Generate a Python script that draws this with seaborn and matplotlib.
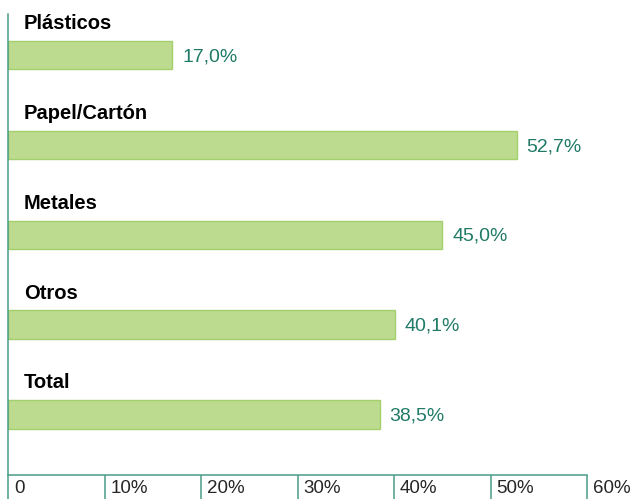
import pandas as pd
import seaborn as sns
import matplotlib.pyplot as plt
from matplotlib.transforms import ScaledTranslation

categorias = ['Plásticos', 'Papel/Cartón', 'Metales', 'Otros', 'Total']
valores = [17.0, 52.7, 45.0, 40.1, 38.5]
ticks = [0, 10, 20, 30, 40, 50, 60]
tick_labels = ['0', '10%', '20%', '30%', '40%', '50%', '60%']

df = pd.DataFrame({'cat': categorias, 'val': valores})

sns.set_style('white')
plt.rcParams['font.family'] = ['Liberation Sans', 'DejaVu Sans']

teal = '#4a9d88'
txt_teal = '#1f7a66'

fig = plt.figure(figsize=(6.33, 4.99), dpi=100)
ax = fig.add_axes([8 / 633, 24 / 499, 579 / 633, 461 / 499])

sns.barplot(data=df, x='val', y='cat', orient='h', color='#bddb8f',
            edgecolor='#a3d06c', linewidth=1, width=0.315, saturation=1, ax=ax)

ax.set_xlim(0, 60)
ax.set_ylim(4.675, -0.459)
ax.set_xlabel('')
ax.set_ylabel('')
ax.set_yticks([])

# value labels and category names
for i, (c, v) in enumerate(zip(categorias, valores)):
    ax.annotate(f'{v:.1f}%'.replace('.', ','), xy=(v, i), xytext=(7.2, -1.2),
                textcoords='offset points', va='center', ha='left',
                fontsize=14, color=txt_teal)
    ax.annotate(c, xy=(0, i), xytext=(11.5, 18.7), textcoords='offset points',
                va='baseline', ha='left', fontsize=14.5, fontweight='bold',
                color='black')

for s in ['top', 'right']:
    ax.spines[s].set_visible(False)
for s in ['left', 'bottom']:
    ax.spines[s].set_color(teal)
    ax.spines[s].set_linewidth(1.1)

ax.set_xticks(ticks)
ax.set_xticklabels(tick_labels, fontsize=13.5)
ax.tick_params(axis='x', direction='out', length=20, width=1.1, color=teal,
               pad=-16.5, bottom=True)
for lbl in ax.get_xticklabels():
    lbl.set_horizontalalignment('left')
    lbl.set_transform(lbl.get_transform() + ScaledTranslation(4.3 / 72, 0, fig.dpi_scale_trans))

fig.savefig('out.png', dpi=100)
